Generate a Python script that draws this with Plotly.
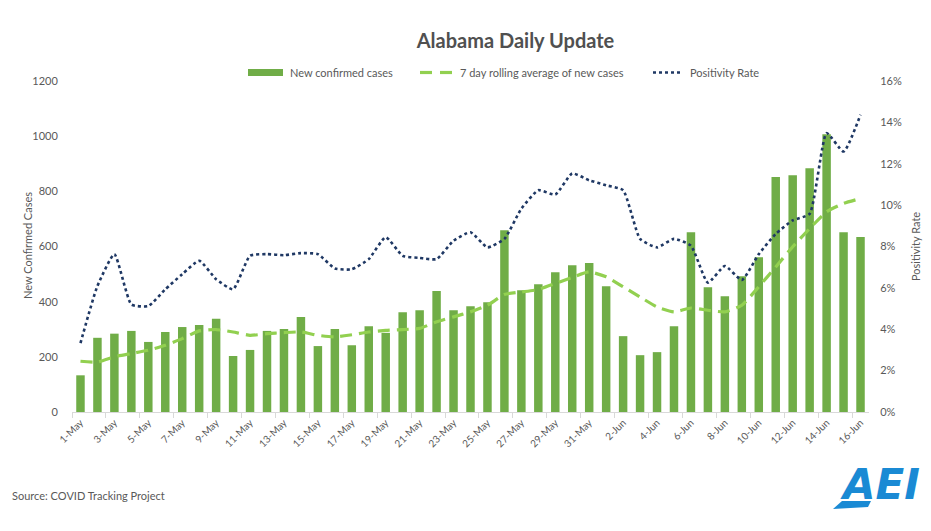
import plotly.graph_objects as go

dates = [f"{d}-May" for d in range(1, 32)] + [f"{d}-Jun" for d in range(1, 17)]

new_cases = [133, 269, 284, 294, 254, 290, 308, 315, 338, 203,
             225, 294, 301, 344, 239, 301, 242, 311, 287, 362,
             369, 439, 369, 383, 398, 659, 441, 463, 507, 532, 540,
             456, 275, 206, 217, 311, 652, 452, 420, 492, 561,
             852, 858, 884, 1007, 652, 634]

rolling_avg = [184, 181, 200, 212, 224, 242, 266, 294, 299, 290,
               278, 284, 288, 290, 278, 272, 280, 290, 296, 299,
               303, 327, 345, 363, 387, 426, 435, 444, 466, 488, 508,
               490, 454, 417, 381, 363, 377, 369, 363, 387, 454,
               526, 599, 665, 726, 756, 774]

positivity_pct = [3.33, 6.09, 7.63, 5.20, 5.12, 5.93, 6.66, 7.31, 6.42, 5.93,
                  7.55, 7.63, 7.58, 7.68, 7.63, 6.94, 6.90, 7.39, 8.45, 7.55,
                  7.45, 7.39, 8.28, 8.69, 7.96, 8.37, 9.83, 10.72, 10.51, 11.53, 11.20,
                  10.96, 10.72, 8.37, 7.96, 8.37, 8.04, 6.25, 7.06, 6.38, 7.63,
                  8.61, 9.26, 9.58, 13.48, 12.59, 14.37]
positivity = [v / 100 for v in positivity_pct]

series_names = ["New confirmed cases", "7 day rolling average of new cases", "Positivity Rate"]

FONT = "Lato"
GREY = "#595959"
BAR_C = "#70AD47"
AVG_C = "#92D050"
POS_C = "#1F3864"
LOGO_C = "#1A8AD4"

# the page body has an 8px margin, so the figure is drawn 8px in from the window corner
OFF = 8
W, H = 931 - OFF, 531 - OFF
L, R, T, B = 72 - OFF, 62, 81 - OFF, 119


def px(x):
    return (x - OFF - L) / (W - L - R)


def py(y):
    return (H - B - (y - OFF)) / (H - T - B)


fig = go.Figure()
fig.add_trace(go.Bar(x=dates, y=new_cases, name=series_names[0],
                     marker=dict(color=BAR_C, line=dict(width=0))))
fig.add_trace(go.Scatter(x=dates, y=rolling_avg, name=series_names[1], mode="lines",
                         line=dict(color=AVG_C, width=3.2, dash="12px,7px",
                                   shape="spline", smoothing=0.5)))
fig.add_trace(go.Scatter(x=dates, y=positivity, name=series_names[2], yaxis="y2", mode="lines",
                         line=dict(color=POS_C, width=2.6, dash="dot",
                                   shape="spline", smoothing=0.5)))

fig.update_layout(
    width=W, height=H,
    margin=dict(l=L, r=R, t=T, b=B, autoexpand=False),
    paper_bgcolor="white", plot_bgcolor="white",
    font=dict(family=FONT, color=GREY, size=11),
    bargap=0.5,
    showlegend=False,
    title=dict(text="<b>Alabama Daily Update</b>", x=(515.5 - OFF) / W, xanchor="center",
               y=1 - (41 - OFF) / H, yanchor="middle",
               font=dict(family=FONT, size=20, color="#505050")),
    xaxis=dict(type="category", dtick=2, tickson="boundaries", ticks="outside",
               ticklen=5, tickcolor="#d9d9d9", showline=True, linecolor="#d9d9d9",
               linewidth=1, showgrid=False, tickangle=-45, automargin=False,
               tickfont=dict(family=FONT, size=10, color=GREY)),
    yaxis=dict(range=[0, 1200], dtick=200, showgrid=False, zeroline=False,
               showline=False, ticks="outside", ticklen=11, tickcolor="rgba(0,0,0,0)",
               automargin=False, tickfont=dict(family=FONT, size=11, color=GREY)),
    yaxis2=dict(range=[0, 0.16], dtick=0.02, tickformat=".0%", overlaying="y", side="right",
                showgrid=False, zeroline=False, showline=False,
                ticks="outside", ticklen=8, tickcolor="rgba(0,0,0,0)", automargin=False,
                tickfont=dict(family=FONT, size=11, color=GREY)),
)

# axis titles
fig.add_annotation(text="New Confirmed Cases", xref="paper", yref="paper",
                   x=px(27), y=py(246), textangle=-90, showarrow=False,
                   xanchor="center", yanchor="middle",
                   font=dict(family=FONT, size=11, color=GREY))
fig.add_annotation(text="Positivity Rate", xref="paper", yref="paper",
                   x=px(915), y=py(246), textangle=-90, showarrow=False,
                   xanchor="center", yanchor="middle",
                   font=dict(family=FONT, size=11, color=GREY))

# custom legend
LY = 72.5
fig.add_shape(type="rect", xref="paper", yref="paper",
              x0=px(248), x1=px(283), y0=py(LY - 3.5), y1=py(LY + 3.5),
              fillcolor=BAR_C, line=dict(width=0))
for a, b in [(420, 432), (440, 452)]:
    fig.add_shape(type="line", xref="paper", yref="paper",
                  x0=px(a), x1=px(b), y0=py(LY), y1=py(LY),
                  line=dict(color=AVG_C, width=3.2))
fig.add_shape(type="line", xref="paper", yref="paper",
              x0=px(653), x1=px(683), y0=py(LY), y1=py(LY),
              line=dict(color=POS_C, width=2.6, dash="dot"))
for x_left, name in zip([288, 458, 688], series_names):
    fig.add_annotation(text=name, xref="paper", yref="paper", x=px(x_left), y=py(LY),
                       xanchor="left", yanchor="middle", showarrow=False,
                       font=dict(family=FONT, size=11, color=GREY))

fig.add_annotation(text="Source: COVID Tracking Project", xref="paper", yref="paper",
                   x=px(10), y=py(495), xanchor="left", yanchor="middle", showarrow=False,
                   font=dict(family=FONT, size=11, color=GREY))

# AEI logo
fig.add_annotation(text="<b><i>AEI</i></b>", xref="paper", yref="paper",
                   x=px(880), y=py(484), xanchor="center", yanchor="middle", showarrow=False,
                   font=dict(family="DejaVu Sans", size=42, color=LOGO_C))
fig.add_shape(type="path", xref="paper", yref="paper",
              path=(f"M {px(833)},{py(509)} L {px(842)},{py(501)} "
                    f"L {px(871)},{py(501)} L {px(868)},{py(507)} Z"),
              fillcolor=LOGO_C, line=dict(width=0))

fig.write_html("out.html")
